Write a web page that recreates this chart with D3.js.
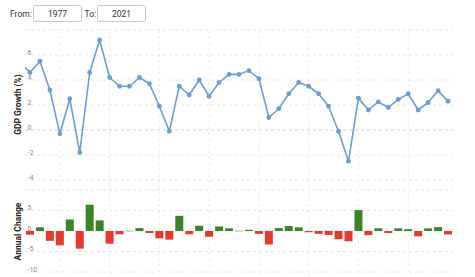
<!DOCTYPE html>
<html>
<head>
<meta charset="utf-8">
<script src="https://cdn.jsdelivr.net/npm/d3@7"></script>
<style>
  html, body { margin: 0; padding: 0; background: #fff; }
  svg { display: block; font-family: Roboto, "Liberation Sans", Arial, sans-serif; }
</style>
</head>
<body>
<svg id="chart" width="475" height="277"></svg>
<script>
// GDP growth (%) by year — 1976 sits just off the left edge
const years = d3.range(1976, 2020);
const growth = [5.4, 4.6, 5.5, 3.2, -0.3, 2.5, -1.8, 4.6, 7.2, 4.2, 3.5,
  3.5, 4.2, 3.7, 1.9, -0.1, 3.5, 2.8, 4.0, 2.7, 3.8,
  4.45, 4.45, 4.75, 4.1, 1.0, 1.7, 2.9, 3.8, 3.5, 2.9,
  1.9, -0.1, -2.5, 2.55, 1.6, 2.25, 1.8, 2.45, 2.9, 1.6,
  2.2, 3.15, 2.3];

// Annual change bars, 1977–2019
const changeYears = d3.range(1977, 2020);
const change = [-0.9, 0.9, -2.4, -3.5, 2.8, -4.3, 6.4, 2.6, -3.1, -0.8,
  0.0, 0.7, -0.5, -1.8, -2.1, 3.7, -0.8, 1.3, -1.4, 1.1,
  0.65, 0.0, 0.3, -0.7, -3.3, 0.7, 1.2, 0.9, -0.3, -0.7,
  -1.0, -2.0, -2.5, 5.1, -1.0, 0.65, -0.5, 0.65, 0.45, -1.3,
  0.65, 0.95, -0.85];

const topTicks = [-4, -2, 0, 2, 4, 6];
const bottomTicks = [-10, -5, 0, 5];

const W = 475, H = 277;
const left = 25, right = 453;
const svg = d3.select("#chart");

// Header: date range boxes
const hdr = svg.append("g").attr("font-size", 8.5).attr("fill", "#333");
hdr.append("text").attr("x", 10).attr("y", 16.5).text("From:");
hdr.append("rect").attr("x", 33.5).attr("y", 5.5).attr("width", 48).attr("height", 16)
  .attr("rx", 2).attr("fill", "#fff").attr("stroke", "#c8c8c8");
hdr.append("text").attr("x", 57.5).attr("y", 16.5).attr("text-anchor", "middle").text("1977");
hdr.append("text").attr("x", 84.5).attr("y", 16.5).text("To:");
hdr.append("rect").attr("x", 97.5).attr("y", 5.5).attr("width", 48).attr("height", 16)
  .attr("rx", 2).attr("fill", "#fff").attr("stroke", "#c8c8c8");
hdr.append("text").attr("x", 121.5).attr("y", 16.5).attr("text-anchor", "middle").text("2021");

const x = d3.scaleLinear().domain([1976.5, 2019.5]).range([left, right]);
const yTop = d3.scaleLinear().domain([-4.8, 8]).range([190, 30]);
const yBot = d3.scaleLinear().domain([-10, 10]).range([272, 190]);

const defs = svg.append("defs");
defs.append("clipPath").attr("id", "clipTop").append("rect")
  .attr("x", left).attr("y", 28).attr("width", right - left).attr("height", 162);
defs.append("clipPath").attr("id", "clipBot").append("rect")
  .attr("x", left).attr("y", 190).attr("width", right - left).attr("height", 87);

const gridYears = d3.range(1980, 2019, 5);

// Vertical grid, both panels
svg.append("g").selectAll("line").data(gridYears).join("line")
  .attr("x1", d => x(d)).attr("x2", d => x(d))
  .attr("y1", 30).attr("y2", H)
  .attr("stroke", "#ececec").attr("stroke-dasharray", "3,3");

// Top panel horizontal grid
svg.append("g").selectAll("line").data([-4, -2, 0, 2, 4, 6, 8]).join("line")
  .attr("x1", left).attr("x2", right)
  .attr("y1", d => yTop(d)).attr("y2", d => yTop(d))
  .attr("stroke", d => d === 0 ? "#cfcfcf" : "#e6e6e6")
  .attr("stroke-dasharray", "3,3");

// Bottom panel horizontal grid
svg.append("g").selectAll("line").data([-10, -5, 0, 5, 10]).join("line")
  .attr("x1", left).attr("x2", right)
  .attr("y1", d => yBot(d)).attr("y2", d => yBot(d))
  .attr("stroke", "#e6e6e6").attr("stroke-dasharray", "3,3");

// GDP line
const pts = years.map((yr, i) => ({ yr, v: growth[i] }));
const topG = svg.append("g").attr("clip-path", "url(#clipTop)");
topG.append("path").datum(pts)
  .attr("fill", "none").attr("stroke", "#6c9dd6").attr("stroke-width", 1.6)
  .attr("stroke-linejoin", "round")
  .attr("d", d3.line().x(d => x(d.yr)).y(d => yTop(d.v)));
topG.selectAll("circle").data(pts).join("circle")
  .attr("cx", d => x(d.yr)).attr("cy", d => yTop(d.v)).attr("r", 2.4)
  .attr("fill", "#6c9dd6");

// Change bars
const bars = changeYears.map((yr, i) => ({ yr, v: change[i] }));
const bw = 8;
svg.append("g").attr("clip-path", "url(#clipBot)")
  .selectAll("rect").data(bars).join("rect")
  .attr("x", d => x(d.yr) - bw / 2).attr("width", bw)
  .attr("y", d => d.v === 0 ? yBot(0) - 0.5 : Math.min(yBot(0), yBot(d.v)))
  .attr("height", d => d.v === 0 ? 1 : Math.abs(yBot(d.v) - yBot(0)))
  .attr("fill", d => d.v > 0 ? "#3b8526" : d.v < 0 ? "#e53a2e" : "#b5b5b5");

// Tick labels (inside the plot, left aligned)
svg.append("g").selectAll("text").data(topTicks).join("text")
  .attr("x", 27.5).attr("y", d => yTop(d) - 0.5)
  .attr("font-size", 7).attr("fill", "#888").text(d => d);
svg.append("g").selectAll("text").data(bottomTicks).join("text")
  .attr("x", 27.5).attr("y", d => yBot(d) - 0.5)
  .attr("font-size", 7).attr("fill", "#888").text(d => d);

// Axis titles
svg.append("text").attr("transform", "translate(20.5,104.5) rotate(-90)")
  .attr("text-anchor", "middle").attr("font-size", 8.5).attr("font-weight", 700)
  .attr("fill", "#222").text("GDP Growth (%)");
svg.append("text").attr("transform", "translate(20.5,231.5) rotate(-90)")
  .attr("text-anchor", "middle").attr("font-size", 8.5).attr("font-weight", 700)
  .attr("fill", "#222").text("Annual Change");
</script>
</body>
</html>
